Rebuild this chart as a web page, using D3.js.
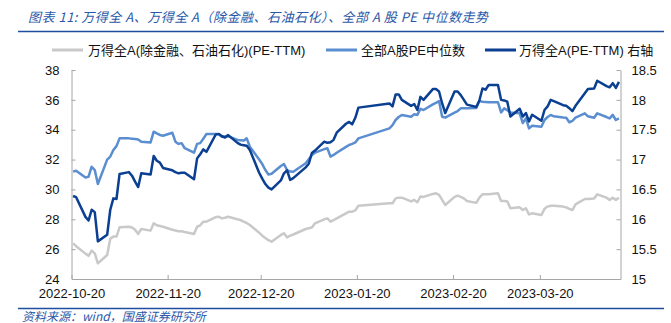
<!DOCTYPE html>
<html><head><meta charset="utf-8">
<script src="https://cdn.jsdelivr.net/npm/d3@7"></script>
<style>
html,body{margin:0;padding:0;background:#fff;}
svg{display:block;}
</style></head>
<body>
<script>
// ---- data ----
const dates = [
"2022-10-20","2022-10-21","2022-10-24","2022-10-25","2022-10-26","2022-10-27","2022-10-28","2022-10-31",
"2022-11-01","2022-11-02","2022-11-03","2022-11-04","2022-11-07","2022-11-08","2022-11-09","2022-11-10","2022-11-11",
"2022-11-14","2022-11-15","2022-11-16","2022-11-17","2022-11-18","2022-11-21","2022-11-22","2022-11-23","2022-11-24","2022-11-25",
"2022-11-28","2022-11-29","2022-11-30",
"2022-12-01","2022-12-02","2022-12-05","2022-12-06","2022-12-07","2022-12-08","2022-12-09","2022-12-12","2022-12-13","2022-12-14",
"2022-12-15","2022-12-16","2022-12-19","2022-12-20","2022-12-21","2022-12-22","2022-12-23","2022-12-26","2022-12-27","2022-12-28",
"2022-12-29","2022-12-30",
"2023-01-03","2023-01-04","2023-01-05","2023-01-06","2023-01-09","2023-01-10","2023-01-11","2023-01-12","2023-01-13",
"2023-01-16","2023-01-17","2023-01-18","2023-01-19","2023-01-20","2023-01-30","2023-01-31",
"2023-02-01","2023-02-02","2023-02-03","2023-02-06","2023-02-07","2023-02-08","2023-02-09","2023-02-10","2023-02-13","2023-02-14",
"2023-02-15","2023-02-16","2023-02-17","2023-02-20","2023-02-21","2023-02-22","2023-02-23","2023-02-24","2023-02-27","2023-02-28",
"2023-03-01","2023-03-02","2023-03-03","2023-03-06","2023-03-07","2023-03-08","2023-03-09","2023-03-10","2023-03-13","2023-03-14",
"2023-03-15","2023-03-16","2023-03-17","2023-03-20","2023-03-21","2023-03-22","2023-03-23","2023-03-24","2023-03-27","2023-03-28",
"2023-03-29","2023-03-30","2023-03-31",
"2023-04-03","2023-04-04","2023-04-06","2023-04-07","2023-04-10","2023-04-11","2023-04-12","2023-04-13","2023-04-14"
];

// 万得全A(除金融、石油石化)(PE-TTM)  — left axis
const windExFin = [
26.39,26.2,25.7,25.55,25.9,25.72,25.05,25.61,
26.7,26.84,26.84,27.46,27.5,27.45,27.3,27.02,27.35,27.24,27.73,27.6,27.55,27.5,27.3,27.25,27.2,27.2,27.15,27.02,27.5,27.6,
27.84,27.84,28.15,28.17,28.06,28.1,28.17,28.0,27.95,27.84,27.75,27.62,27.1,26.9,26.75,26.6,26.5,26.95,27.06,26.79,26.9,26.98,
27.35,27.4,27.45,27.73,28.0,28.06,27.84,27.95,28.06,28.4,28.51,28.51,28.6,28.91,29.07,29.07,
29.4,29.45,29.45,29.2,29.3,29.14,29.52,29.5,29.7,29.74,29.63,29.3,28.96,29.5,29.58,29.5,29.4,29.23,29.1,29.45,
29.67,29.67,29.67,29.74,29.23,29.23,29.2,28.74,28.8,28.62,28.74,28.33,28.4,28.29,28.7,28.85,28.91,28.9,28.85,28.8,28.7,28.62,29.0,
29.36,29.36,29.4,29.67,29.45,29.3,29.45,29.3,29.45
];

// 全部A股PE中位数 — left axis
const medianPE = [
31.19,31.25,30.8,30.85,31.52,31.3,30.36,32.0,
32.2,32.64,32.9,33.42,33.42,33.4,33.38,33.35,33.2,33.15,33.87,33.76,33.65,33.6,33.8,33.2,33.05,33.1,32.76,32.46,33.05,33.1,
33.4,33.71,33.71,33.7,33.53,33.55,33.57,33.31,33.3,33.27,33.42,32.86,32.0,31.7,31.3,31.0,31.05,31.57,31.7,31.3,31.2,31.19,
31.75,32.02,32.3,32.46,32.7,32.76,32.2,32.31,32.46,32.85,32.98,33.05,33.15,33.42,34.09,34.3,
34.65,34.85,34.99,34.87,35.03,34.99,35.4,35.32,35.7,35.8,35.92,34.87,34.81,35.15,35.25,35.43,35.43,35.43,35.45,35.92,
35.88,35.86,35.84,35.84,35.16,35.43,35.3,35.16,35.1,34.45,34.76,34.09,34.27,34.2,34.65,34.85,34.99,34.9,34.82,34.8,34.5,34.6,34.81,
35.1,34.9,34.8,35.1,34.85,34.76,34.99,34.65,34.76
];

// 万得全A(PE-TTM) — right axis
const windA = [
16.39,16.37,16.04,15.98,16.16,16.12,15.63,15.74,
16.16,16.35,16.34,16.76,16.79,16.73,16.63,16.54,16.77,16.75,17.06,16.98,16.95,16.86,16.82,16.79,16.77,16.78,16.78,16.67,17.02,17.09,
17.17,17.13,17.42,17.43,17.39,17.37,17.41,17.28,17.25,17.24,17.23,17.16,16.78,16.68,16.59,16.53,16.5,16.65,16.77,16.82,16.66,16.69,
16.87,16.93,17.11,17.15,17.3,17.28,17.29,17.33,17.45,17.6,17.63,17.59,17.7,17.87,17.94,17.89,
18.09,18.09,18.0,17.9,17.93,17.83,18.05,18.0,18.18,18.18,18.14,17.94,17.78,18.14,18.14,18.08,18.0,17.92,17.88,17.99,
18.19,18.17,18.25,18.25,18.0,17.99,17.97,17.72,17.85,17.72,17.78,17.64,17.75,17.65,17.83,17.89,18.0,17.98,17.91,17.9,17.86,17.81,17.9,
18.11,18.18,18.19,18.32,18.23,18.21,18.28,18.2,18.3
];

const leftTicks = [24,26,28,30,32,34,36,38];
const rightTicks = [15,15.5,16,16.5,17,17.5,18,18.5];
const xTickLabels = ["2022-10-20","2022-11-20","2022-12-20","2023-01-20","2023-02-20","2023-03-20"];
const seriesNames = ["万得全A(除金融、石油石化)(PE-TTM)","全部A股PE中位数","万得全A(PE-TTM) 右轴"];
const titleText = "图表 11:  万得全 A、万得全 A（除金融、石油石化）、全部 A 股 PE 中位数走势";
const sourceText = "资料来源：wind，国盛证券研究所";

// ---- drawing ----
const W = 671, H = 323;
const parse = d3.utcParse("%Y-%m-%d");
const svg = d3.select("body").append("svg").attr("width", W).attr("height", H);

const colors = ["#c9c9c9", "#5b8ed0", "#0b3f91"];
const axisColor = "#a6a6a6";
const blue = "#2a58a8";
const latinFont = "'Liberation Sans', Arial, 'Noto Sans CJK SC', sans-serif";

const x = d3.scaleUtc()
  .domain([parse("2022-10-20"), parse("2023-04-15")])
  .range([71.5, 620.5]);
const yL = d3.scaleLinear().domain([24, 38]).range([279, 70]);
const yR = d3.scaleLinear().domain([15, 18.5]).range([279, 70]);

const xc = s => x(d3.utcHour.offset(parse(s), 12));

// title
svg.append("text").attr("x", 28).attr("y", 22)
  .attr("font-family", "'Noto Sans CJK SC', sans-serif")
  .attr("font-size", 13).attr("font-style", "italic")
  .attr("letter-spacing", 0.5)
  .attr("fill", blue).text(titleText);
svg.append("line").attr("x1", 18).attr("x2", 664).attr("y1", 31.5).attr("y2", 31.5)
  .attr("stroke", "#1f4e9e").attr("stroke-width", 1.5);

// legend
const legendItems = [
  {x0: 52, tx: 88},
  {x0: 326, tx: 361},
  {x0: 485, tx: 519}
];
legendItems.forEach((it, i) => {
  svg.append("line").attr("x1", it.x0).attr("x2", it.x0 + 31)
    .attr("y1", 50).attr("y2", 50)
    .attr("stroke", colors[i]).attr("stroke-width", 3);
  svg.append("text").attr("x", it.tx).attr("y", 54.5)
    .attr("font-family", latinFont).attr("font-size", 13)
    .attr("fill", "#111").text(seriesNames[i]);
});

// axes
const gL = svg.append("g").attr("transform", "translate(71.5,0)")
  .call(d3.axisLeft(yL).tickValues(leftTicks).tickSizeInner(-4).tickSizeOuter(0).tickPadding(12)
        .tickFormat(d3.format("d")));
const gR = svg.append("g").attr("transform", "translate(620.5,0)")
  .call(d3.axisRight(yR).tickValues(rightTicks).tickSizeInner(-4).tickSizeOuter(0).tickPadding(11)
        .tickFormat(d => String(d)));
const gB = svg.append("g").attr("transform", "translate(0,279)")
  .call(d3.axisBottom(x).tickValues(xTickLabels.map(parse)).tickSizeInner(-4).tickSizeOuter(0).tickPadding(10)
        .tickFormat(d3.utcFormat("%Y-%m-%d")));
[gL, gR, gB].forEach(g => {
  g.select(".domain").attr("stroke", axisColor);
  g.selectAll(".tick line").attr("stroke", axisColor);
  g.selectAll("text").attr("font-family", latinFont).attr("font-size", 13).attr("fill", "#111");
});
gL.selectAll(".tick").filter(d => d === 24).select("line").remove();
gR.selectAll(".tick").filter(d => d === 15).select("line").remove();

// lines
const mk = (vals, y) => d3.line()
  .x((d, i) => xc(dates[i]))
  .y(d => y(d))(vals);

const n = dates.length;
[[windExFin, yL], [medianPE, yL], [windA, yR]].forEach(([vals, y], i) => {
  svg.append("path").attr("d", mk(vals.slice(0, n), y))
    .attr("fill", "none").attr("stroke", colors[i])
    .attr("stroke-width", 2.5).attr("stroke-linejoin", "round");
});

// source
svg.append("line").attr("x1", 18).attr("x2", 664).attr("y1", 308.5).attr("y2", 308.5)
  .attr("stroke", "#1f4e9e").attr("stroke-width", 1.5);
svg.append("text").attr("x", 22).attr("y", 321)
  .attr("font-family", "'Noto Sans CJK SC', sans-serif")
  .attr("font-size", 12).attr("font-style", "italic")
  .attr("fill", blue).text(sourceText);
</script>
</body></html>
